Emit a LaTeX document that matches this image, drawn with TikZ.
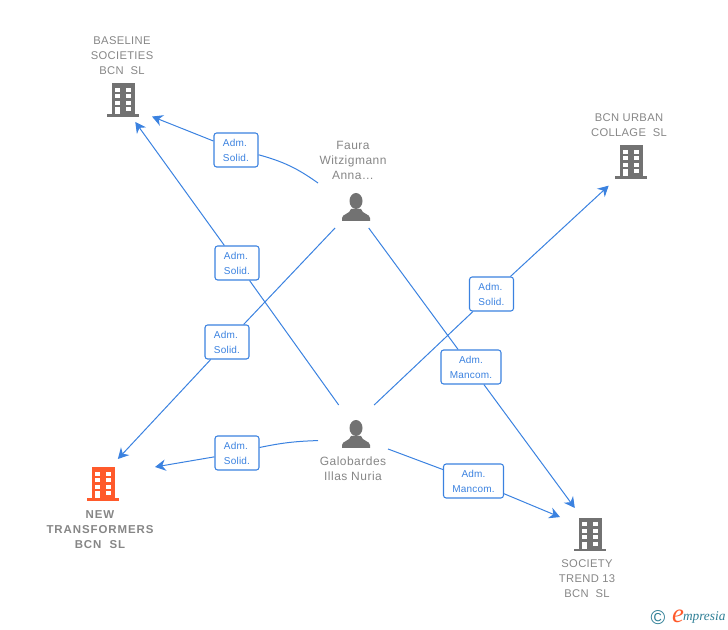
\documentclass[tikz,border=0pt]{standalone}
\usepackage{fontspec}
\setmainfont{Liberation Sans}
\newfontfamily\logofont{Liberation Serif}
\newfontfamily\firmfont[LetterSpace=3]{Liberation Sans}
\newfontfamily\hotfont[LetterSpace=8,BoldFont={Liberation Sans Bold}]{Liberation Sans}
\newfontfamily\whofont[LetterSpace=4]{Liberation Sans}
\newfontfamily\rolefont[LetterSpace=2]{Liberation Sans}
\usetikzlibrary{arrows.meta}
\definecolor{linkblue}{HTML}{3B82E0}
\definecolor{icongrey}{HTML}{727272}
\definecolor{textgrey}{HTML}{868686}
\definecolor{hotorange}{HTML}{FF5A2B}
\definecolor{logoteal}{HTML}{2F7F96}
\tikzstyle{place}=[inner sep=0pt,outer sep=0pt]
\tikzstyle{firm}=[align=center,text=textgrey,inner sep=0pt,font=\firmfont\fontsize{8.4}{11.25}\selectfont]
\tikzstyle{person}=[align=center,text=textgrey,inner sep=0pt,font=\whofont\fontsize{9}{11.25}\selectfont]
\tikzstyle{role}=[rectangle,draw=linkblue,fill=white,line width=.8pt,rounded corners=2pt,
align=center,text=linkblue,inner sep=0pt,minimum height=25.5pt,font=\rolefont\fontsize{7.5}{11.25}\selectfont]
\tikzstyle{solid}=[role,align=left,minimum width=33pt]
\tikzstyle{mancom}=[role,minimum width=45pt]
\tikzstyle{link}=[color=linkblue,line width=.75pt]
\tikzstyle{tolink}=[link,-{Stealth[length=8pt,width=8.5pt,inset=2.6pt]}]
% building: base centre at #1,#2
\newcommand{\building}[3]{
  \fill[#3] (#1-11.5,#2-33.5) rectangle (#1+11.5,#2-1);
  \fill[#3] (#1-16,#2-2.5) rectangle (#1+16,#2);
  \foreach \wy in {-29,-22.5,-16}{
    \fill[white] (#1-8,#2+\wy) rectangle (#1-3,#2+\wy+4);
    \fill[white] (#1+2.5,#2+\wy) rectangle (#1+7.5,#2+\wy+4);
  }
  \fill[white] (#1+2.5,#2-9.5) rectangle (#1+7.5,#2-5.5);
  \fill[white] (#1-8,#2-9.5) rectangle (#1-3,#2-2.5);
}
% person: bottom centre at #1,#2
\newcommand{\silhouette}[2]{
  \fill[icongrey] (#1,#2-20) ellipse (6.5 and 8);
  \fill[icongrey] (#1-14,#2) -- (#1-14,#2-3) .. controls (#1-14,#2-7) and (#1-6,#2-7) .. (#1-5,#2-12)
    -- (#1+5,#2-12) .. controls (#1+6,#2-7) and (#1+14,#2-7) .. (#1+14,#2-3) -- (#1+14,#2) -- cycle;
}
\begin{document}
\begin{tikzpicture}[x=.75pt,y=-.75pt]
  \useasboundingbox (0,0) rectangle (728,630);

  % COMPANIES
  \building{123}{117}{icongrey}
  \building{631}{179}{icongrey}
  \building{103}{501}{hotorange}
  \building{590}{551}{icongrey}
  \node[place,minimum width=43.5pt,minimum height=25.5pt] (baseline) at (123,105) {};
  \node[place,minimum width=45pt,minimum height=31pt] (urban) at (631,165) {};
  \node[place,minimum width=79.5pt,minimum height=25.5pt] (transformers) at (102,476) {};
  \node[place,minimum width=46.5pt,minimum height=33pt] (trend) at (591,530) {};

  \node[firm] (baselinetext) at (122,56) {BASELINE\\SOCIETIES\\BCN\ \ SL};
  \node[firm] (urbantext) at (629,125) {BCN URBAN\\COLLAGE\ \ SL};
  \node[firm,font=\hotfont\fontsize{8.6}{11.25}\selectfont\bfseries] (transformerstext) at (100,530) {NEW\\TRANSFORMERS\\BCN\ \ SL};
  \node[firm] (trendtext) at (587,578.5) {SOCIETY\\TREND 13\\BCN\ \ SL};

  % PEOPLE
  \silhouette{356}{221}
  \silhouette{356}{448}
  \node[place,minimum width=54pt,minimum height=30pt] (faura) at (354,208) {};
  \node[place,minimum width=52.5pt,minimum height=30pt] (galobardes) at (353,425) {};

  \node[person] (fauratext) at (353,160) {Faura\\Witzigmann\\Anna\dots};
  \node[person] (galobardestext) at (353,468.5) {Galobardes\\Illas Nuria};

  % ROLES
  \node[solid] (r1) at (236,150) {Adm.\\Solid.};
  \node[solid] (r2) at (237,263) {Adm.\\Solid.};
  \node[solid] (r3) at (227,342) {Adm.\\Solid.};
  \node[solid] (r4) at (237,453) {Adm.\\Solid.};
  \node[solid] (r5) at (491.5,294) {Adm.\\Solid.};
  \node[mancom] (r6) at (471,367) {Adm.\\Mancom.};
  \node[mancom] (r7) at (473.5,481) {Adm.\\Mancom.};

  % LINKS
  \path[link] ([yshift=3.75pt]faura.north west) edge[bend right=10] (r1);
  \path[tolink] (r1) edge (baseline);
  \path[link] (galobardes) edge (r2);
  \path[tolink] (r2) edge (baseline);
  \path[link] (faura) edge (r3);
  \path[tolink] (r3) edge (transformers);
  \path[link] (galobardes.204.6) edge[bend right=5] (r4);
  \path[tolink] (r4) edge (transformers);
  \path[link] (galobardes) edge (r5);
  \path[tolink] (r5) edge (urban);
  \path[link] (faura) edge (r6);
  \path[tolink] (r6) edge (trend);
  \path[link] ([yshift=-3pt]galobardes.south east) edge (r7);
  \path[tolink] (r7) edge (trend);

  % LOGO
  \node[place,text=logoteal,font=\fontsize{15}{15}\selectfont] (logoc) at (658,618) {\textcopyright};
  \node[place,text=hotorange,font=\logofont\itshape\fontsize{20}{20}\selectfont] (logoe) at (678,616) {e};
  \node[place,text=logoteal,font=\logofont\itshape\fontsize{10}{10}\selectfont,anchor=west] (logotext) at (683,618) {mpresia};
\end{tikzpicture}
\end{document}
